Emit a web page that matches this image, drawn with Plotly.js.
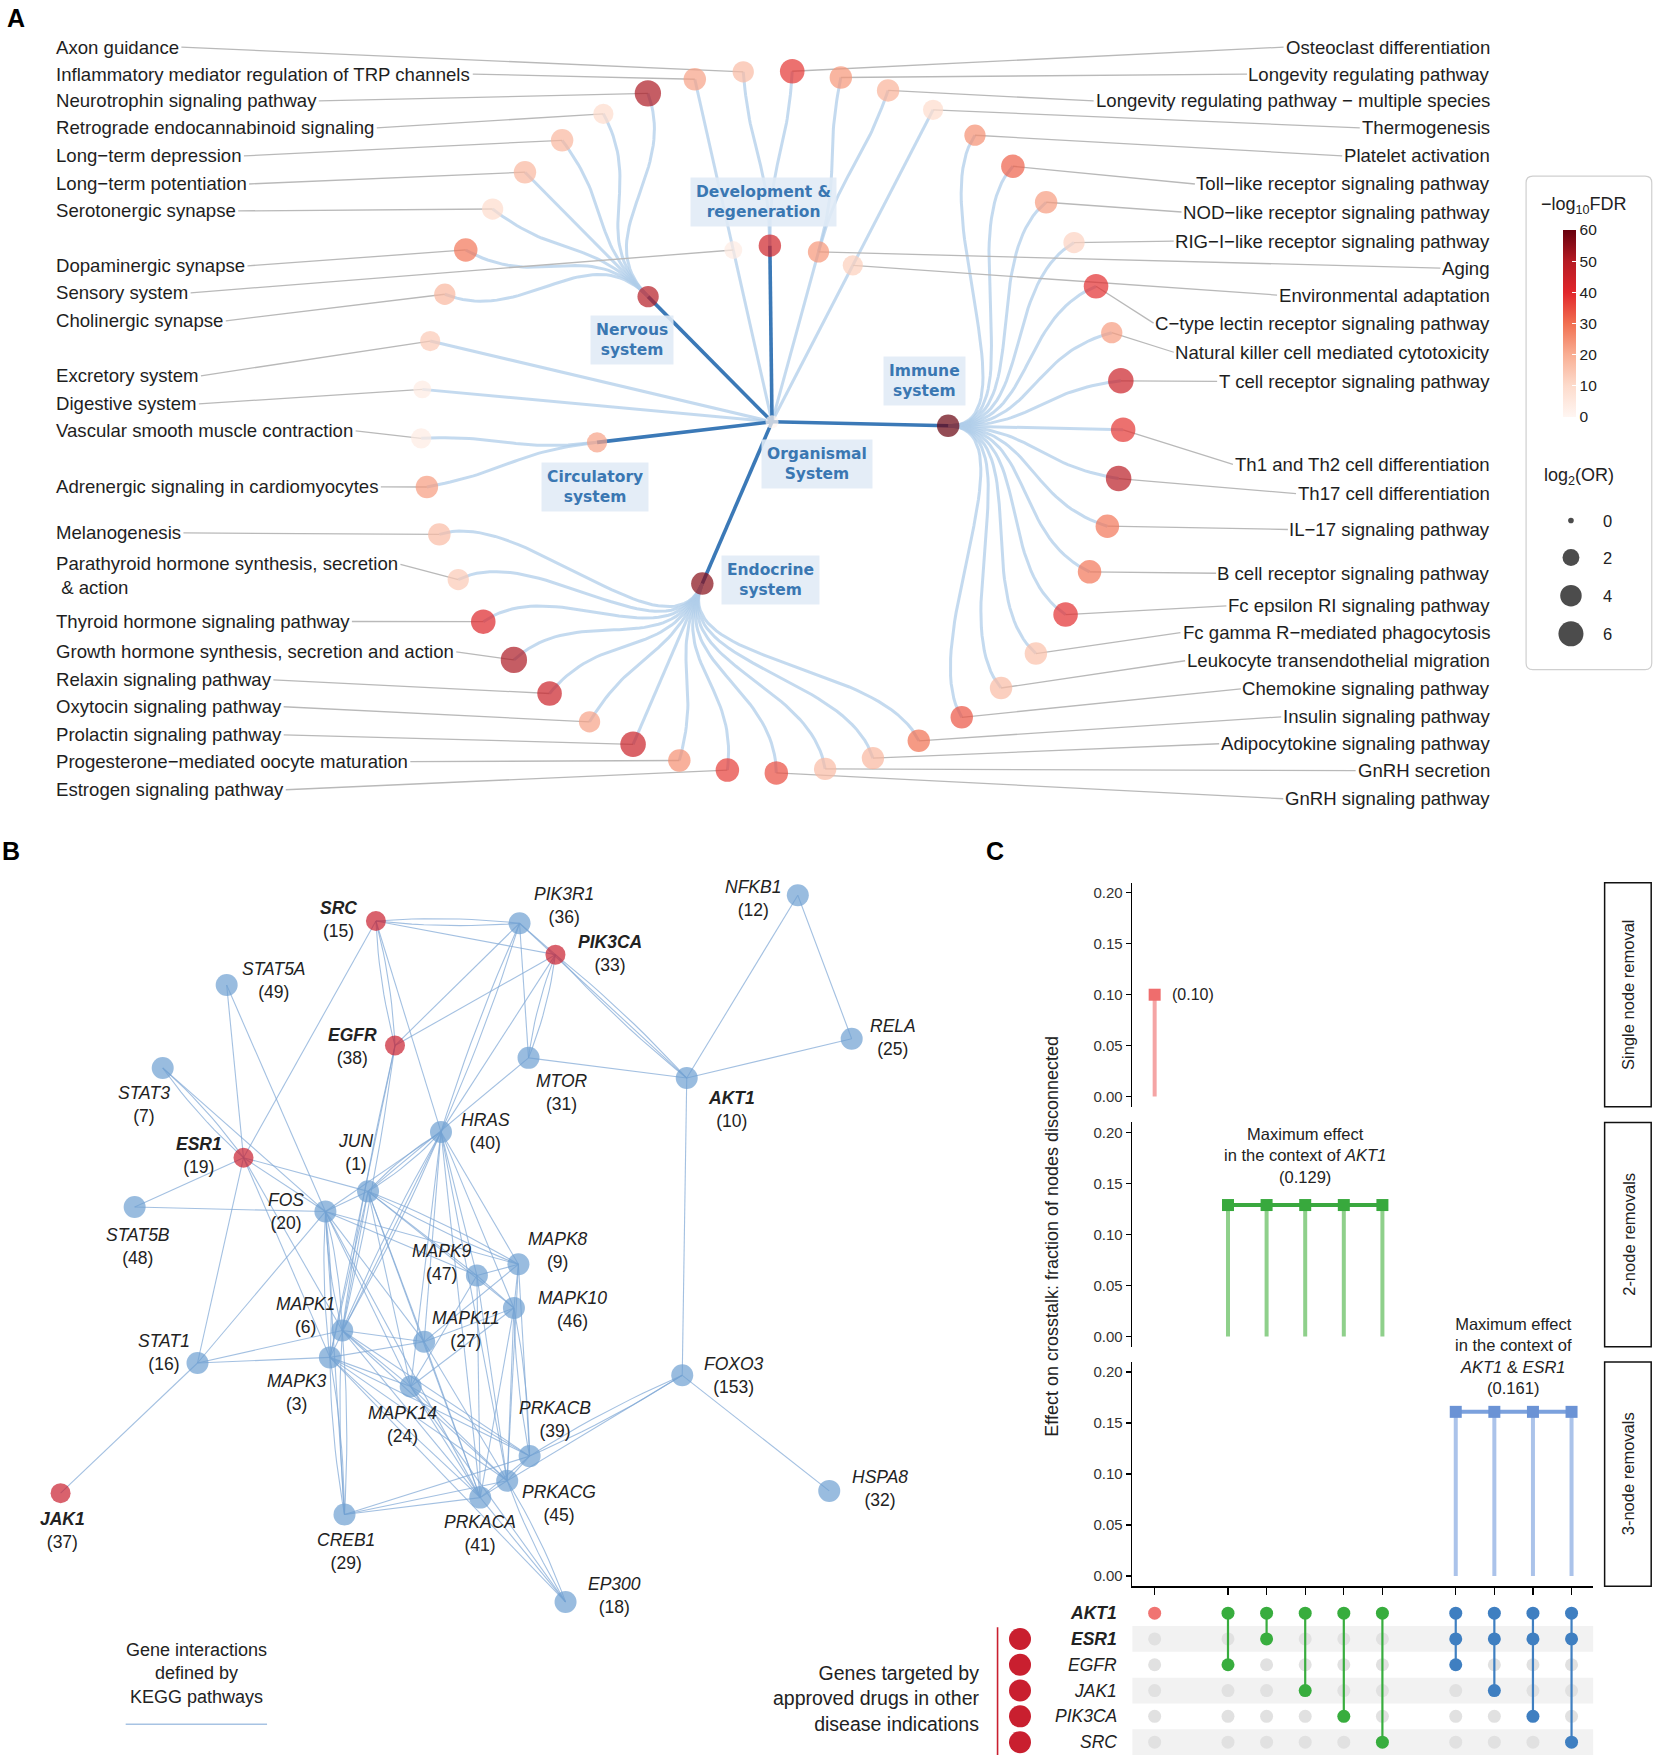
<!DOCTYPE html>
<html><head><meta charset="utf-8">
<script src="https://cdn.plot.ly/plotly-3.0.1.min.js"></script>
<style>html,body{margin:0;padding:0;background:#fff}#chart{width:1654px;height:1759px}</style>
</head><body><div id="chart"></div>
<script>
// ================= DATA =================
// Panel A: KEGG Organismal System pathways (leaves, clockwise order)
const pathwayNames = [
 'Estrogen signaling pathway','Progesterone\u2212mediated oocyte maturation','Prolactin signaling pathway','Oxytocin signaling pathway',
 'Relaxin signaling pathway','Growth hormone synthesis, secretion and action','Thyroid hormone signaling pathway',
 'Parathyroid hormone synthesis, secretion & action','Melanogenesis','Adrenergic signaling in cardiomyocytes',
 'Vascular smooth muscle contraction','Digestive system','Excretory system','Cholinergic synapse','Dopaminergic synapse',
 'Serotonergic synapse','Long\u2212term potentiation','Long\u2212term depression','Retrograde endocannabinoid signaling',
 'Neurotrophin signaling pathway','Inflammatory mediator regulation of TRP channels','Axon guidance',
 'Osteoclast differentiation','Longevity regulating pathway','Longevity regulating pathway \u2212 multiple species',
 'Thermogenesis','Platelet activation','Toll\u2212like receptor signaling pathway','NOD\u2212like receptor signaling pathway',
 'RIG\u2212I\u2212like receptor signaling pathway','C\u2212type lectin receptor signaling pathway',
 'Natural killer cell mediated cytotoxicity','T cell receptor signaling pathway','Th1 and Th2 cell differentiation',
 'Th17 cell differentiation','IL\u221217 signaling pathway','B cell receptor signaling pathway',
 'Fc epsilon RI signaling pathway','Fc gamma R\u2212mediated phagocytosis','Leukocyte transendothelial migration',
 'Chemokine signaling pathway','Insulin signaling pathway','Adipocytokine signaling pathway','GnRH secretion','GnRH signaling pathway'];
const pathwayGroup = [
 'Endocrine system','Endocrine system','Endocrine system','Endocrine system','Endocrine system','Endocrine system','Endocrine system',
 'Endocrine system','Endocrine system','Circulatory system','Circulatory system','root','root',
 'Nervous system','Nervous system','Nervous system','Nervous system','Nervous system','Nervous system','Nervous system',
 'Sensory system','Development & regeneration','Development & regeneration','Aging','Aging','Environmental adaptation',
 'Immune system','Immune system','Immune system','Immune system','Immune system','Immune system','Immune system','Immune system',
 'Immune system','Immune system','Immune system','Immune system','Immune system','Immune system','Immune system',
 'Endocrine system','Endocrine system','Endocrine system','Endocrine system'];
const pathwayFDR = [37,25,45,22,45,51,41,14,17,23,4,4,14,18,29,10,18,18,10,51,22,17,38,24,19,10,25,32,23,12,39,23,45,38,49,29,29,39,16,17,34,30,18,17,35];
const pathwayLog2OR = [5.1,4.5,6.3,3.9,5.7,6.8,5.7,3.9,4.5,4.5,3.4,2.4,3.4,3.9,5.1,3.9,4.5,4.5,3.4,6.8,4.5,3.9,5.7,4.5,4.5,3.4,3.9,5.1,4.5,3.9,5.7,3.9,6.3,5.7,6.3,5.1,5.1,5.7,4.5,4.5,4.5,4.5,4.5,4.5,5.1];
const groupNames = ['Nervous system','Development & regeneration','Immune system','Circulatory system','Endocrine system','Sensory system','Aging','Environmental adaptation'];
const groupFDR = [50,44,60,22,56,4,24,13];
const groupLog2OR = [3.9,4.5,4.5,3.4,4.5,2.4,3.9,3.4];
const rootName = 'Organismal System';
const rootFDR = 1;
const rootLog2OR = 0.9;
const fdrTicks = [0,10,20,30,40,50,60];
const orLegendValues = [0,2,4,6];

// Panel B: gene network (KEGG interactions)
const geneNames = ['SRC','PIK3R1','PIK3CA','NFKB1','STAT5A','EGFR','RELA','MTOR','AKT1','STAT3','HRAS','ESR1','JUN','FOS','STAT5B','MAPK9','MAPK8','MAPK10','MAPK1','MAPK11','STAT1','MAPK3','FOXO3','MAPK14','PRKACB','PRKACG','HSPA8','JAK1','PRKACA','CREB1','EP300'];
const geneRank = [15,36,33,12,49,38,25,31,10,7,40,19,1,20,48,47,9,46,6,27,16,3,153,24,39,45,32,37,41,29,18];
const drugTargets = ['SRC','PIK3CA','EGFR','ESR1','JAK1'];
const highlightGenes = ['SRC','PIK3CA','EGFR','ESR1','JAK1','AKT1'];
const geneEdges = [
 ['SRC','PIK3R1',2],['SRC','PIK3CA',1],['SRC','EGFR',2],['SRC','HRAS',1],['SRC','ESR1',1],['PIK3R1','PIK3CA',1],
 ['PIK3R1','EGFR',1],['PIK3CA','EGFR',1],['PIK3R1','MTOR',1],['PIK3CA','MTOR',2],['PIK3R1','HRAS',2],['PIK3CA','HRAS',1],
 ['PIK3R1','AKT1',1],['PIK3CA','AKT1',2],['NFKB1','AKT1',1],['NFKB1','RELA',1],['RELA','AKT1',1],['MTOR','AKT1',1],
 ['MTOR','JUN',1],['AKT1','FOXO3',1],['FOXO3','HSPA8',1],['FOXO3','PRKACB',2],['FOXO3','PRKACG',1],['STAT5A','ESR1',1],
 ['STAT5A','FOS',1],['STAT3','ESR1',2],['STAT3','FOS',1],['ESR1','STAT5B',1],['ESR1','STAT1',1],['ESR1','FOS',1],
 ['ESR1','JUN',1],['ESR1','MAPK1',1],['ESR1','MAPK3',1],['STAT5B','FOS',1],['STAT1','FOS',1],['STAT1','MAPK1',1],
 ['STAT1','MAPK3',1],['STAT1','JAK1',1],['EGFR','MAPK1',2],['EGFR','MAPK3',1],['HRAS','JUN',2],['HRAS','FOS',1],
 ['HRAS','MAPK1',2],['HRAS','MAPK3',1],['HRAS','MAPK8',1],['HRAS','MAPK9',1],['HRAS','MAPK10',1],['HRAS','MAPK11',1],
 ['HRAS','MAPK14',1],['HRAS','PRKACA',1],['HRAS','PRKACG',1],['JUN','FOS',1],['JUN','MAPK8',2],['JUN','MAPK9',1],
 ['JUN','MAPK10',1],['JUN','MAPK1',1],['JUN','MAPK3',1],['JUN','MAPK14',1],['JUN','MAPK11',1],['JUN','PRKACA',1],
 ['FOS','MAPK1',2],['FOS','MAPK3',2],['FOS','MAPK14',1],['FOS','MAPK8',1],['FOS','MAPK9',1],['FOS','CREB1',1],
 ['FOS','PRKACA',1],['FOS','MAPK11',1],['MAPK1','MAPK14',1],['MAPK1','MAPK11',1],['MAPK1','PRKACA',1],['MAPK1','PRKACB',1],
 ['MAPK1','PRKACG',1],['MAPK1','CREB1',2],['MAPK3','CREB1',2],['MAPK3','MAPK14',1],['MAPK3','PRKACA',1],['MAPK3','PRKACB',1],
 ['MAPK3','PRKACG',1],['MAPK3','EP300',1],['MAPK3','MAPK11',1],['MAPK14','PRKACA',1],['MAPK14','PRKACG',1],['MAPK14','PRKACB',1],
 ['MAPK14','MAPK9',1],['MAPK14','MAPK10',1],['MAPK14','EP300',1],['MAPK11','PRKACA',1],['MAPK11','PRKACG',1],['MAPK11','MAPK8',1],
 ['MAPK11','MAPK10',1],['MAPK9','PRKACA',1],['MAPK9','PRKACG',1],['MAPK9','MAPK8',1],['MAPK8','PRKACB',1],['MAPK8','PRKACG',1],
 ['MAPK10','PRKACA',1],['MAPK10','PRKACB',2],['MAPK10','PRKACG',1],['CREB1','PRKACA',1],['CREB1','PRKACG',1],['CREB1','PRKACB',1],
 ['PRKACA','PRKACB',1],['PRKACA','PRKACG',1],['PRKACB','PRKACG',1],['PRKACA','EP300',1],['PRKACG','EP300',2],['MAPK8','MAPK10',1],
 ['MAPK9','MAPK10',1]];

// Panel C: node removal effect on crosstalk
const removalSets = [['AKT1'],['AKT1','EGFR'],['AKT1','ESR1'],['AKT1','JAK1'],['AKT1','PIK3CA'],['AKT1','SRC'],
 ['AKT1','ESR1','EGFR'],['AKT1','ESR1','JAK1'],['AKT1','ESR1','PIK3CA'],['AKT1','ESR1','SRC']];
const removalEffect = [0.10,0.129,0.129,0.129,0.129,0.129,0.161,0.161,0.161,0.161];
const matrixGenes = ['AKT1','ESR1','EGFR','JAK1','PIK3CA','SRC'];
const removalPanels = ['Single node removal','2-node removals','3-node removals'];
const effectTicks = [0,0.05,0.10,0.15,0.20];

// ================= LAYOUT CONFIG (positions / styles) =================
const W0 = 1474, H0 = 1568, S = 1654/1474;
const FONT = 'Liberation Sans, Arial, Helvetica, sans-serif';
const dendro = {cx:688, cy:376, rGroup:157, rLeaf:313, startAngle:-172.7};
const labelLeftX = 48, labelRightX = 1330;
const labelRowY = {
 'Axon guidance':42,'Inflammatory mediator regulation of TRP channels':66,'Neurotrophin signaling pathway':90,
 'Retrograde endocannabinoid signaling':114,'Long\u2212term depression':139,'Long\u2212term potentiation':164,
 'Serotonergic synapse':188,'Dopaminergic synapse':237,'Sensory system':261,'Cholinergic synapse':286,
 'Excretory system':335,'Digestive system':360,'Vascular smooth muscle contraction':384,
 'Adrenergic signaling in cardiomyocytes':434,'Melanogenesis':475,'Parathyroid hormone synthesis, secretion & action':503,
 'Thyroid hormone signaling pathway':554,'Growth hormone synthesis, secretion and action':581,'Relaxin signaling pathway':606,
 'Oxytocin signaling pathway':630,'Prolactin signaling pathway':655,'Progesterone\u2212mediated oocyte maturation':679,
 'Estrogen signaling pathway':704,
 'Osteoclast differentiation':42,'Longevity regulating pathway':66,'Longevity regulating pathway \u2212 multiple species':90,
 'Thermogenesis':114,'Platelet activation':139,'Toll\u2212like receptor signaling pathway':164,
 'NOD\u2212like receptor signaling pathway':189,'RIG\u2212I\u2212like receptor signaling pathway':215,'Aging':239,
 'Environmental adaptation':263,'C\u2212type lectin receptor signaling pathway':288,
 'Natural killer cell mediated cytotoxicity':314,'T cell receptor signaling pathway':340,
 'Th1 and Th2 cell differentiation':414,'Th17 cell differentiation':440,'IL\u221217 signaling pathway':472,
 'B cell receptor signaling pathway':511,'Fc epsilon RI signaling pathway':540,'Fc gamma R\u2212mediated phagocytosis':564,
 'Leukocyte transendothelial migration':589,'Chemokine signaling pathway':614,'Insulin signaling pathway':639,
 'Adipocytokine signaling pathway':663,'GnRH secretion':687,'GnRH signaling pathway':712};
const labelWrap = {'Parathyroid hormone synthesis, secretion & action':['Parathyroid hormone synthesis, secretion','\u00a0& action']};
const boxedGroups = {
 'Nervous system':{pos:[563,303],text:'Nervous<br>system'},
 'Development & regeneration':{pos:[680,180],text:'Development &<br>regeneration'},
 'Immune system':{pos:[824,340],text:'Immune<br>system'},
 'Circulatory system':{pos:[530,434],text:'Circulatory<br>system'},
 'Endocrine system':{pos:[687,517],text:'Endocrine<br>system'},
 'Organismal System':{pos:[728,414],text:'Organismal<br>System'}};
const fdrScale = [[0,'#fff6f2'],[0.1667,'#fddbcc'],[0.3333,'#f9ae93'],[0.5,'#f16f50'],[0.6667,'#e1262b'],[0.8333,'#b51b24'],[1,'#67000d']];
const netPos = {SRC:[335,821],PIK3R1:[463,823],PIK3CA:[495,851],NFKB1:[711,798],STAT5A:[202,878],EGFR:[352,932],RELA:[759,926],
 MTOR:[471,943],AKT1:[612,961],STAT3:[145,952],HRAS:[393,1009],ESR1:[217,1032],JUN:[328,1062],FOS:[290,1080],STAT5B:[120,1076],
 MAPK9:[425,1137],MAPK8:[462,1127],MAPK10:[458,1166],MAPK1:[305,1186],MAPK11:[378,1196],STAT1:[176,1215],MAPK3:[294,1210],
 FOXO3:[608,1226],MAPK14:[366,1236],PRKACB:[472,1298],PRKACG:[452,1320],HSPA8:[739,1329],JAK1:[54,1331],PRKACA:[428,1335],
 CREB1:[307,1350],EP300:[504,1428]};
const netLabelPos = {SRC:[302,820],PIK3R1:[503,807],PIK3CA:[544,850],NFKB1:[671,801],STAT5A:[244,874],EGFR:[314,933],RELA:[796,925],
 MTOR:[501,974],AKT1:[652,989],STAT3:[128,985],HRAS:[433,1009],ESR1:[177,1030],JUN:[317,1027],FOS:[255,1080],STAT5B:[123,1111],
 MAPK9:[394,1125],MAPK8:[497,1115],MAPK10:[510,1167],MAPK1:[272,1173],MAPK11:[415,1185],STAT1:[146,1206],MAPK3:[265,1241],
 FOXO3:[654,1226],MAPK14:[359,1270],PRKACB:[495,1265],PRKACG:[498,1340],HSPA8:[784,1327],JAK1:[56,1364],PRKACA:[428,1367],
 CREB1:[308,1383],EP300:[548,1422]};
const grpStem = ['#f5a5a5','#8fd08b','#abc3ea'];
const grpMark = ['#ef6d6d','#38a93d','#6b93d5'];
const grpDot  = ['#f07472','#38ad3e','#3f7fc1'];
const grpBar  = [null,'#3aa83f','#7ba1dd'];
const panelTB = [[786.8,986.6],[1000.6,1200.5],[1214,1414]];
const matrixTB = [1426.5,1564.5];
const cX0 = 1009, cX1 = 1420;

// ================= HELPERS =================
const ctx = document.createElement('canvas').getContext('2d');
function textW(t, px, fam){ ctx.font = px + 'px ' + fam; return ctx.measureText(t).width; }
const rad = d => d*Math.PI/180;
const polar = (r,a) => [dendro.cx + r*Math.sin(rad(a)), dendro.cy - r*Math.cos(rad(a))];
const sizePx = v => S*(5 + 7.07*Math.sqrt(Math.max(v,0)));
const yD = (t,b) => [1 - b/H0, 1 - t/H0];
function bez(p0,p1,p2,p3,n,xs,ys){
  for(let k=0;k<=n;k++){const t=k/n,u=1-t;
    xs.push(u*u*u*p0[0]+3*u*u*t*p1[0]+3*u*t*t*p2[0]+t*t*t*p3[0]);
    ys.push(u*u*u*p0[1]+3*u*u*t*p1[1]+3*u*t*t*p2[1]+t*t*t*p3[1]);}
  xs.push(null); ys.push(null);
}

const traces = [], annotations = [], shapes = [];

// ================= PANEL A =================
const N = pathwayNames.length;
const leafAngle = pathwayNames.map((_,i)=>dendro.startAngle + i*360/N);
const groupAngle = {};
groupNames.forEach(g=>{let sx=0,sy=0;
  pathwayNames.forEach((_,i)=>{if(pathwayGroup[i]===g){sx+=Math.sin(rad(leafAngle[i]));sy+=Math.cos(rad(leafAngle[i]));}});
  groupAngle[g]=Math.atan2(sx,sy)*180/Math.PI;});
const rootPos = [dendro.cx, dendro.cy];
const groupPos = {}; groupNames.forEach(g=>groupPos[g]=polar(dendro.rGroup, groupAngle[g]));
const leafPos = leafAngle.map(a=>polar(dendro.rLeaf, a));

const tx=[], ty=[], kx=[], ky=[];
const rMid = (dendro.rGroup+dendro.rLeaf)/2;
pathwayNames.forEach((_,i)=>{
  const g = pathwayGroup[i];
  if(g==='root'){ tx.push(rootPos[0], leafPos[i][0], null); ty.push(rootPos[1], leafPos[i][1], null); }
  else { const ag=groupAngle[g], al=leafAngle[i];
    bez(groupPos[g], polar(rMid,ag), polar(rMid,al), leafPos[i], 40, tx, ty); }
});
groupNames.forEach(g=>{
  if(boxedGroups[g]){ kx.push(rootPos[0], groupPos[g][0], null); ky.push(rootPos[1], groupPos[g][1], null); }
  else { tx.push(rootPos[0], groupPos[g][0], null); ty.push(rootPos[1], groupPos[g][1], null); }
});
traces.push({x:tx,y:ty,mode:'lines',line:{color:'rgba(176,205,233,0.75)',width:3},hoverinfo:'skip',xaxis:'x',yaxis:'y'});
traces.push({x:kx,y:ky,mode:'lines',line:{color:'#3b79b7',width:3.6},hoverinfo:'skip',xaxis:'x',yaxis:'y'});

const LFS = 18.6;
const lx=[], ly=[];
const labeled = pathwayNames.map((n,i)=>({name:n,pos:leafPos[i]}))
  .concat(['Sensory system','Aging','Environmental adaptation'].map(g=>({name:g,pos:groupPos[g]})));
labeled.forEach(o=>{
  const yL = labelRowY[o.name]; const left = o.pos[0] < dendro.cx;
  const lines = labelWrap[o.name] || [o.name];
  const w = textW(lines[0], LFS, 'Liberation Sans')/S;
  const x0 = left ? labelLeftX + w + 4 : labelRightX - w - 4;
  lx.push(x0, o.pos[0], null); ly.push(yL, o.pos[1], null);
  annotations.push({x: left?labelLeftX:labelRightX, y: yL + (lines.length-1)*10, xref:'x', yref:'y',
    xanchor: left?'left':'right', yanchor:'middle', align:'left', showarrow:false,
    text: lines.join('<br>'), font:{size:LFS, family:FONT, color:'#1e1e1e'}});
});
traces.push({x:lx,y:ly,mode:'lines',line:{color:'#b9b9b9',width:1.3},hoverinfo:'skip',xaxis:'x',yaxis:'y'});

const nx=[rootPos[0]], ny=[rootPos[1]], nc=[rootFDR], ns=[sizePx(rootLog2OR)];
groupNames.forEach((g,i)=>{nx.push(groupPos[g][0]);ny.push(groupPos[g][1]);nc.push(groupFDR[i]);ns.push(sizePx(groupLog2OR[i]));});
pathwayNames.forEach((_,i)=>{nx.push(leafPos[i][0]);ny.push(leafPos[i][1]);nc.push(pathwayFDR[i]);ns.push(sizePx(pathwayLog2OR[i]));});
traces.push({x:nx,y:ny,mode:'markers',hoverinfo:'skip',xaxis:'x',yaxis:'y',cliponaxis:false,
  marker:{color:nc,size:ns,colorscale:fdrScale,cmin:0,cmax:60,line:{width:0},showscale:true,
    colorbar:{x:1393/W0,xanchor:'left',xpad:0,y:1-205/H0,yanchor:'top',ypad:0,len:167*S,lenmode:'pixels',
      thickness:12*S,outlinewidth:0,tickvals:fdrTicks,ticks:'inside',ticklen:4,tickcolor:'#ffffff',tickwidth:1.2,
      tickfont:{size:15.5,family:FONT,color:'#222'}}}});

Object.keys(boxedGroups).forEach(g=>{const b=boxedGroups[g];
  annotations.push({x:b.pos[0],y:b.pos[1],xref:'x',yref:'y',xanchor:'center',yanchor:'middle',showarrow:false,text:'<b>'+b.text+'</b>',
    font:{size:15.5,family:'DejaVu Sans, Verdana, sans-serif',color:'#3a77b2'},bgcolor:'rgba(224,235,246,0.88)',borderpad:5});});

(function(){const x0=1360,x1=1472,y0=157,y1=597,r=6;
 shapes.push({type:'path',xref:'x',yref:'y',path:`M${x0+r},${y0} L${x1-r},${y0} Q${x1},${y0} ${x1},${y0+r} L${x1},${y1-r} Q${x1},${y1} ${x1-r},${y1} L${x0+r},${y1} Q${x0},${y1} ${x0},${y1-r} L${x0},${y0+r} Q${x0},${y0} ${x0+r},${y0} Z`,
   line:{color:'#cfcfcf',width:1.2},fillcolor:'rgba(0,0,0,0)'});})();
annotations.push({x:1412,y:183,xref:'x',yref:'y',xanchor:'center',yanchor:'middle',showarrow:false,text:'\u2212log<sub>10</sub>FDR',font:{size:18,family:FONT,color:'#222'}});
annotations.push({x:1407,y:425,xref:'x',yref:'y',xanchor:'center',yanchor:'middle',showarrow:false,text:'log<sub>2</sub>(OR)',font:{size:18,family:FONT,color:'#222'}});
const orLegY = [464,497,531,565];
traces.push({x:orLegendValues.map(()=>1400),y:orLegY,mode:'markers',hoverinfo:'skip',xaxis:'x',yaxis:'y',
  marker:{color:'#000',size:orLegendValues.map(sizePx),line:{width:0}}});
orLegendValues.forEach((v,i)=>annotations.push({x:1427,y:orLegY[i],xref:'x',yref:'y',xanchor:'left',yanchor:'middle',showarrow:false,
  text:String(v),font:{size:16.5,family:FONT,color:'#222'}}));

// ================= PANEL B =================
const ex=[], ey=[];
geneEdges.forEach(([a,b,m])=>{
  const p0=netPos[a], p1=netPos[b]; const dx=p1[0]-p0[0], dy=p1[1]-p0[1], L=Math.hypot(dx,dy);
  const ux=-dy/L, uy=dx/L;
  for(let k=0;k<m;k++){
    const off = m===1?0:(k-(m-1)/2)*12;
    const c=[(p0[0]+p1[0])/2+ux*off,(p0[1]+p1[1])/2+uy*off];
    for(let s=0;s<=12;s++){const t=s/12,u=1-t;
      ex.push(u*u*p0[0]+2*u*t*c[0]+t*t*p1[0]); ey.push(u*u*p0[1]+2*u*t*c[1]+t*t*p1[1]);}
    ex.push(null); ey.push(null);
  }
});
traces.push({x:ex,y:ey,mode:'lines',line:{color:'rgba(128,168,214,0.72)',width:1.1},hoverinfo:'skip',xaxis:'x',yaxis:'y'});
traces.push({x:geneNames.map(g=>netPos[g][0]),y:geneNames.map(g=>netPos[g][1]),mode:'markers',hoverinfo:'skip',xaxis:'x',yaxis:'y',
  marker:{size:geneNames.map(g=>drugTargets.includes(g)?20:22),color:geneNames.map(g=>drugTargets.includes(g)?'#c91f2f':'#6e9fd1'),line:{width:0}}});
geneNames.forEach((g,i)=>{
  const nm = highlightGenes.includes(g) ? '<b><i>'+g+'</i></b>' : '<i>'+g+'</i>';
  annotations.push({x:netLabelPos[g][0],y:netLabelPos[g][1],xref:'x',yref:'y',xanchor:'center',yanchor:'middle',showarrow:false,align:'center',
    text:nm+'<br>('+geneRank[i]+')',font:{size:17.5,family:FONT,color:'#222'}});
});
annotations.push({x:175,y:1492,xref:'x',yref:'y',xanchor:'center',yanchor:'middle',showarrow:false,align:'center',
  text:'Gene interactions<br>defined by<br>KEGG pathways',font:{size:18,family:FONT,color:'#222'}});
shapes.push({type:'line',xref:'x',yref:'y',x0:112,x1:238,y0:1537,y1:1537,line:{color:'#a7c3e3',width:1.6}});

// ================= PANEL C =================
const groupOf = removalSets.map(s=>s.length-1);
const colX = removalSets.map((s,i)=>i+1+0.9*groupOf[i]);
const pxPerUnit = 34.4;
const xr = [colX[0]-(1029-cX0)/pxPerUnit, colX[0]+(cX1-1029)/pxPerUnit];
const colPaperX = x => (cX0 + (x - xr[0])*pxPerUnit)/W0;
const panelAxes = [['x3','y2'],['x4','y3'],['x2','y4']];
[0,1,2].forEach(p=>{
  const idx = removalSets.map((_,i)=>i).filter(i=>groupOf[i]===p);
  const sx=[], sy=[];
  idx.forEach(i=>{sx.push(colX[i],colX[i],null); sy.push(0,removalEffect[i],null);});
  traces.push({x:sx,y:sy,mode:'lines',line:{color:grpStem[p],width:4},hoverinfo:'skip',xaxis:panelAxes[p][0],yaxis:panelAxes[p][1]});
  if(idx.length>1) traces.push({x:idx.map(i=>colX[i]),y:idx.map(i=>removalEffect[i]),mode:'lines',line:{color:grpBar[p],width:4},
    hoverinfo:'skip',xaxis:panelAxes[p][0],yaxis:panelAxes[p][1]});
  traces.push({x:idx.map(i=>colX[i]),y:idx.map(i=>removalEffect[i]),mode:'markers',cliponaxis:false,
    marker:{symbol:'square',size:12,color:grpMark[p]},hoverinfo:'skip',xaxis:panelAxes[p][0],yaxis:panelAxes[p][1]});
});
annotations.push({x:colX[0]+0.4,y:removalEffect[0],xref:'x3',yref:'y2',xanchor:'left',yanchor:'middle',showarrow:false,
  text:'('+removalEffect[0].toFixed(2)+')',font:{size:16,family:FONT,color:'#222'}});
annotations.push({x:colPaperX((colX[1]+colX[5])/2),y:1-1030/H0,xref:'paper',yref:'paper',xanchor:'center',yanchor:'middle',showarrow:false,align:'center',
  text:'Maximum effect<br>in the context of <i>AKT1</i><br>('+removalEffect[1].toFixed(3)+')',font:{size:16.5,family:FONT,color:'#222'}});
annotations.push({x:colPaperX((colX[6]+colX[9])/2),y:1-1209/H0,xref:'paper',yref:'paper',xanchor:'center',yanchor:'middle',showarrow:false,align:'center',
  text:'Maximum effect<br>in the context of<br><i>AKT1</i> & <i>ESR1</i><br>('+removalEffect[6].toFixed(3)+')',font:{size:16.5,family:FONT,color:'#222'}});

removalPanels.forEach((t,p)=>{
  const [tp,bt]=panelTB[p];
  shapes.push({type:'rect',xref:'paper',yref:'paper',x0:1430/W0,x1:1471.5/W0,y0:1-bt/H0,y1:1-tp/H0,line:{color:'#111',width:1.5}});
  annotations.push({x:1451/W0,y:1-(tp+bt)/2/H0,xref:'paper',yref:'paper',xanchor:'center',yanchor:'middle',showarrow:false,textangle:-90,text:t,
    font:{size:16.5,family:FONT,color:'#222'}});
});
annotations.push({x:938/W0,y:1-1102/H0,xref:'paper',yref:'paper',xanchor:'center',yanchor:'middle',showarrow:false,textangle:-90,
  text:'Effect on crosstalk: fraction of nodes disconnected',font:{size:18,family:FONT,color:'#222'}});

matrixGenes.forEach((g,r)=>{ if(r%2===1) shapes.push({type:'rect',layer:'below',xref:'x5',yref:'y5',x0:xr[0],x1:xr[1],y0:r-0.5,y1:r+0.5,
  line:{width:0},fillcolor:'#f2f2f2'}); });
const gx=[], gy=[];
removalSets.forEach((s,i)=>matrixGenes.forEach((g,r)=>{ if(!s.includes(g)){gx.push(colX[i]);gy.push(r);} }));
traces.push({x:gx,y:gy,mode:'markers',marker:{size:13,color:'#e1e1e1'},hoverinfo:'skip',xaxis:'x5',yaxis:'y5',cliponaxis:false});
[0,1,2].forEach(p=>{
  const cx=[], cy=[], dx=[], dy=[];
  removalSets.forEach((s,i)=>{ if(groupOf[i]!==p) return;
    const rows = s.map(g=>matrixGenes.indexOf(g));
    if(rows.length>1){ cx.push(colX[i],colX[i],null); cy.push(Math.min(...rows),Math.max(...rows),null); }
    rows.forEach(r=>{dx.push(colX[i]);dy.push(r);});
  });
  if(cx.length) traces.push({x:cx,y:cy,mode:'lines',line:{color:grpDot[p],width:2.2},hoverinfo:'skip',xaxis:'x5',yaxis:'y5'});
  traces.push({x:dx,y:dy,mode:'markers',marker:{size:13,color:grpDot[p]},hoverinfo:'skip',xaxis:'x5',yaxis:'y5',cliponaxis:false});
});
matrixGenes.forEach((g,r)=>{
  const bold = r<2;
  annotations.push({x:997,y:r,xref:'x',yref:'y5',xanchor:'right',yanchor:'middle',showarrow:false,
    text: bold?'<b><i>'+g+'</i></b>':'<i>'+g+'</i>',font:{size:17.5,family:FONT,color:'#222'}});
});
const targetRows = matrixGenes.map((g,r)=>r).filter(r=>drugTargets.includes(matrixGenes[r]));
traces.push({x:targetRows.map(()=>909),y:targetRows,mode:'markers',marker:{size:22,color:'#c91f2f'},hoverinfo:'skip',xaxis:'x',yaxis:'y5',cliponaxis:false});
shapes.push({type:'line',xref:'x',yref:'y5',x0:889,x1:889,y0:0.55,y1:5.55,line:{color:'#c91f2f',width:1.6}});
annotations.push({x:874,y:1514,xref:'x',yref:'y',xanchor:'right',yanchor:'middle',align:'right',showarrow:false,
  text:'Genes targeted by<br>approved drugs in other<br>disease indications',font:{size:19.5,family:FONT,color:'#222'}});

[['A',14,16],['B',10,759],['C',887,759]].forEach(([t,x,y])=>annotations.push({x,y,xref:'x',yref:'y',xanchor:'center',yanchor:'middle',showarrow:false,
  text:'<b>'+t+'</b>',font:{size:25,family:FONT,color:'#000'}}));

// ================= AXES =================
const yStyle = {range:[-0.01,0.21],tickvals:effectTicks,ticktext:effectTicks.map(v=>v.toFixed(2)),ticks:'outside',ticklen:5,
  tickwidth:1.3,tickcolor:'#000',showline:true,linecolor:'#000',linewidth:1.5,showgrid:false,zeroline:false,fixedrange:true,
  tickfont:{size:15,family:FONT,color:'#333'}};
const cxD = [cX0/W0, cX1/W0];
const hid = {domain:cxD,range:xr,visible:false,fixedrange:true};
const layout = {
  width:1654,height:1759,margin:{l:0,r:0,t:0,b:0},paper_bgcolor:'#ffffff',plot_bgcolor:'rgba(0,0,0,0)',
  showlegend:false,hovermode:false,font:{family:FONT,color:'#222'},
  xaxis:{domain:[0,1],range:[0,W0],visible:false,fixedrange:true},
  yaxis:{domain:[0,1],range:[H0,0],visible:false,fixedrange:true},
  xaxis2:{domain:cxD,range:xr,anchor:'y4',showline:true,linecolor:'#000',linewidth:1.5,ticks:'outside',ticklen:7,
    tickcolor:'#000',tickwidth:1.3,tickvals:colX,showticklabels:false,showgrid:false,zeroline:false,fixedrange:true},
  xaxis3:Object.assign({anchor:'y2'},hid), xaxis4:Object.assign({anchor:'y3'},hid), xaxis5:Object.assign({anchor:'y5'},hid),
  yaxis2:Object.assign({domain:yD(...panelTB[0]),anchor:'x3'},yStyle),
  yaxis3:Object.assign({domain:yD(...panelTB[1]),anchor:'x4'},yStyle),
  yaxis4:Object.assign({domain:yD(...panelTB[2]),anchor:'x2'},yStyle),
  yaxis5:{domain:yD(...matrixTB),range:[5.5,-0.5],anchor:'x5',visible:false,fixedrange:true},
  annotations, shapes
};
Plotly.newPlot('chart', traces, layout, {staticPlot:true, displayModeBar:false});
</script></body></html>
